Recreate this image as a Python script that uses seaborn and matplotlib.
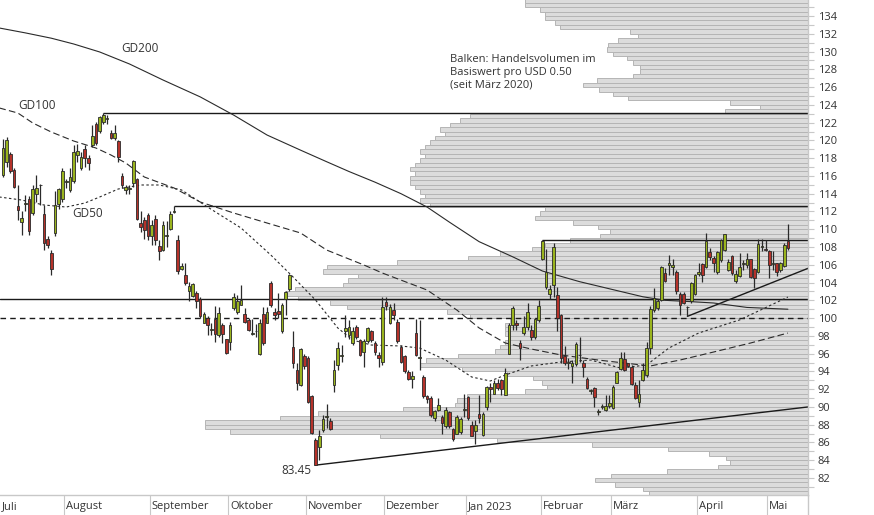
import numpy as np
import pandas as pd
import matplotlib
matplotlib.use("Agg")
import matplotlib.pyplot as plt
from matplotlib.lines import Line2D
import matplotlib.transforms as mtransforms
import seaborn as sns

# ---------------- data ----------------
month_names = ["Juli", "August", "September", "Oktober", "November", "Dezember",
               "Jan 2023", "Februar", "März", "April", "Mai"]
days_per_month = [17, 23, 21, 21, 21, 22, 20, 19, 23, 19, 6]

open_ = [116.1,117.6,118.5,116.7,112.6,110.8,112.8,113.4,111.8,114.0,114.95,111.7,108.9,107.3,109.6,112.8,113.4,115.35,114.4,115.4,
         118.3,116.9,119.0,118.0,119.5,121.9,121.1,122.1,122.45,120.8,120.3,119.9,116.0,114.4,114.55,115.2,115.6,110.7,111.0,111.6,
         109.2,111.2,108.1,107.7,109.2,110.0,111.9,108.8,105.5,104.9,103.0,102.5,102.8,102.1,99.5,100.0,98.65,99.9,98.1,99.2,
         97.6,97.3,101.1,100.7,101.5,100.5,99.8,98.2,98.5,96.0,100.5,99.5,103.9,100.7,100.8,98.5,102.2,103.3,96.7,94.2,
         92.5,95.7,95.5,91.2,86.3,85.5,87.4,88.9,88.4,92.5,94.7,95.75,98.6,98.1,97.2,99.0,97.5,96.2,97.4,98.5,
         97.2,95.9,95.1,101.8,99.5,100.9,99.6,96.8,95.7,93.9,93.1,98.3,95.5,93.4,91.2,91.0,88.7,89.7,88.9,87.8,
         89.4,87.5,87.0,87.2,89.65,91.1,88.0,87.3,89.2,86.8,90.0,92.3,91.5,92.7,93.0,91.4,96.0,99.2,99.5,97.2,
         98.3,99.0,98.7,97.9,99.8,106.7,103.5,102.7,103.7,102.6,100.3,95.7,94.95,94.6,94.8,95.9,95.0,93.2,91.8,92.1,
         89.45,90.05,89.7,90.1,89.9,92.7,94.3,95.4,94.9,94.5,92.5,90.6,93.0,93.6,96.6,100.9,101.1,102.0,105.1,106.0,
         105.7,105.2,102.7,102.7,101.2,101.9,102.7,105.0,106.1,105.8,107.4,106.8,105.2,106.5,107.7,105.4,107.0,104.2,104.7,106.05,
         106.0,106.6,105.5,105.2,108.0,107.75,107.5,106.05,106.2,105.4,105.9,108.7]
high = [120.2,120.4,118.7,116.9,115.0,112.0,113.8,113.7,115.0,116.1,115.1,112.7,109.2,107.7,114.3,114.6,116.9,115.7,116.9,119.5,
        119.6,118.7,119.5,118.4,121.7,122.1,122.7,123.1,122.9,121.2,121.7,120.0,116.3,115.0,115.0,117.8,115.8,112.0,111.4,111.8,
        111.0,111.6,108.8,110.9,110.9,112.0,112.6,109.4,106.2,106.2,104.1,103.9,103.0,102.4,100.7,100.2,99.4,101.4,101.3,99.4,
        97.7,99.6,102.8,102.6,103.7,101.1,100.0,99.9,99.3,99.9,101.3,101.3,104.2,101.1,102.8,101.7,103.0,105.0,98.5,94.9,
        96.6,96.0,95.7,91.3,86.5,87.4,89.1,90.3,88.7,95.3,97.3,97.0,100.4,99.8,99.0,99.2,97.7,97.7,99.0,98.7,
        97.4,96.2,102.4,102.4,101.6,101.7,99.9,97.0,95.8,94.2,94.0,99.9,99.8,93.6,91.4,91.2,89.7,91.0,89.1,90.0,
        89.6,87.6,89.1,88.9,91.5,91.2,88.4,88.5,91.4,89.4,92.4,92.7,93.0,93.1,93.2,94.4,99.4,101.4,99.8,97.5,
        100.2,101.7,99.2,100.0,102.0,108.8,107.8,103.7,108.4,103.5,100.5,96.9,95.5,95.3,97.3,97.9,95.3,93.4,92.0,92.3,
        89.8,90.3,91.3,91.4,92.5,94.0,96.2,96.2,95.0,94.7,92.8,93.0,94.9,97.3,101.4,103.4,102.2,105.9,105.6,107.1,
        106.7,105.4,102.9,102.9,101.4,104.1,105.0,106.2,106.2,109.6,107.9,107.0,107.5,108.9,109.5,106.6,107.1,105.4,107.3,106.5,
        107.3,106.7,105.6,108.9,108.9,108.8,107.7,107.5,106.2,106.3,108.4,110.6]
low = [115.9,117.0,116.3,114.6,111.0,109.4,112.0,109.4,111.6,113.1,112.7,107.7,107.9,104.8,109.2,112.3,113.1,114.6,114.2,115.2,
       117.6,116.7,117.0,116.7,119.3,119.5,120.8,121.9,121.9,120.2,120.0,117.6,114.6,114.0,114.0,114.8,111.0,109.7,108.9,108.8,
       108.2,108.2,106.5,107.5,108.0,109.9,111.8,105.0,105.4,103.7,101.9,102.4,101.1,100.0,99.4,98.1,98.1,97.3,97.9,97.2,
       96.0,96.4,100.9,100.5,101.5,99.4,98.5,98.1,97.9,95.8,97.0,99.4,101.3,99.8,100.0,98.3,100.4,103.0,94.4,91.9,
       92.4,94.3,90.4,87.0,83.45,84.0,87.2,87.6,87.4,91.7,94.2,95.1,97.9,97.7,97.0,97.7,95.7,94.5,97.2,97.3,
       95.9,94.5,94.7,100.9,99.3,99.8,97.2,94.9,93.8,93.0,92.1,95.7,94.2,91.0,90.4,88.9,88.4,89.5,87.0,87.6,
       87.6,86.2,86.9,87.0,88.9,88.5,86.7,85.8,88.2,86.7,89.7,90.6,91.5,91.9,91.3,91.4,96.0,98.7,98.7,95.3,
       98.1,98.7,97.5,97.7,99.6,106.5,103.3,102.2,102.4,98.5,94.9,94.7,94.3,92.7,94.6,95.1,93.4,92.0,91.5,90.0,
       89.1,89.8,89.5,89.9,89.8,92.7,94.2,94.0,94.5,92.5,90.9,90.0,92.9,93.4,96.0,100.7,100.9,101.9,104.1,104.9,
       104.9,102.7,100.3,101.6,100.2,101.7,102.6,104.7,104.1,105.6,106.5,105.2,105.0,106.3,107.6,105.3,104.8,103.9,104.6,105.4,
       105.6,104.5,103.4,105.1,107.5,107.5,104.5,105.4,104.7,105.2,105.8,107.7]
close = [119.1,120.0,116.5,114.8,112.2,111.3,112.9,109.8,114.5,114.6,115.0,108.4,108.2,105.5,112.7,114.5,116.6,115.45,115.9,118.7,
         118.8,118.1,118.0,117.5,120.5,119.7,122.6,122.9,122.55,120.3,120.8,118.1,115.0,114.7,114.65,117.7,111.2,110.3,109.9,109.2,
         110.5,108.8,107.6,110.5,109.3,111.7,112.0,105.3,105.9,103.9,103.6,103.8,101.9,100.2,100.5,99.2,98.75,98.2,100.6,98.2,
         96.1,99.2,102.4,101.9,102.0,99.6,98.7,98.3,98.6,99.5,97.2,100.7,101.5,100.4,100.5,101.5,102.9,104.9,94.9,92.7,
         96.5,94.6,90.6,87.1,83.5,86.7,88.6,89.0,87.5,94.2,96.6,95.85,98.9,99.0,98.5,97.9,95.9,97.4,98.9,97.5,
         96.2,95.5,101.3,101.4,101.3,100.3,97.4,95.1,94.0,93.1,93.5,95.9,95.6,91.2,90.9,89.1,89.5,90.2,88.2,89.7,
         87.9,86.4,88.9,88.6,89.75,88.7,86.7,88.0,88.8,89.2,92.2,92.0,92.7,92.1,92.0,93.8,99.2,101.1,99.2,96.6,
         99.0,100.7,97.9,99.9,101.4,108.7,105.2,103.3,108.0,100.0,95.5,94.9,95.05,95.0,97.1,95.8,94.5,92.1,91.9,91.1,
         89.55,90.15,90.1,90.4,92.3,93.9,95.5,94.2,94.6,92.6,91.0,91.5,94.2,96.6,101.0,102.3,101.9,105.7,104.2,106.2,
         106.0,103.1,101.5,101.7,101.3,104.0,104.9,105.2,104.9,108.7,106.9,106.2,107.4,108.8,109.5,106.3,105.1,105.0,105.8,106.15,
         106.7,104.6,104.5,108.3,108.1,107.65,106.0,106.15,105.2,106.2,108.2,107.9]

# moving averages (trading-day index, price)
gd200_x = [-1, 6, 13, 19, 26, 34, 43, 53, 62, 71, 80, 87, 93, 100, 107, 114, 120, 128, 137, 145, 155, 164, 172,
           178, 185, 191, 200, 211]
gd200_y = [132.65, 132.1, 131.5, 130.85, 129.95, 128.6, 126.8, 124.9, 122.85, 120.6, 118.9, 117.6, 116.5, 115.3,
           114.0, 112.5, 110.8, 108.6, 106.9, 105.3, 104.1, 103.2, 102.4, 102.0, 101.85, 101.7, 101.2, 101.0]
gd100_x = [-1, 4, 8, 13, 19, 25, 29, 33, 38, 46, 53, 62, 71, 80, 87, 97, 102, 114, 122, 128, 135, 142, 150,
           160, 174, 182, 191, 201, 211]
gd100_y = [123.65, 123.08, 121.96, 120.94, 119.93, 119.14, 118.36, 117.46, 115.88, 114.64, 113.07, 111.83, 110.70,
           109.58, 107.66, 105.98, 105.07, 103.16, 100.91, 98.89, 97.20, 96.52, 95.85, 95.28, 94.61, 95.28, 96.18,
           97.20, 98.32]
gd50_x = [-1, 5, 11, 17, 22, 26, 31, 37, 42, 48, 55, 64, 72, 78, 84, 90, 94, 99, 107, 112, 119, 126, 131, 135,
          142, 150, 158, 166, 173, 179, 187, 198, 211]
gd50_y = [113.63, 113.29, 112.73, 112.50, 112.95, 113.63, 114.53, 114.98, 114.98, 114.42, 112.50, 110.14, 107.10,
          104.62, 102.04, 98.89, 97.53, 96.97, 96.86, 96.63, 95.28, 93.37, 92.92, 93.59, 94.61, 95.06, 95.28, 94.38,
          94.72, 96.63, 98.32, 99.79, 102.37]

# volume profile: bins of USD 0.50 starting at 80.0, relative bar length
vol_bin_start = 80.0
vol_bin_size = 0.5
vol_length = [159, 165, 193, 213, 197, 141, 90, 78, 82, 99, 140, 216, 311, 428, 578, 603, 603, 528, 490, 405,
              353, 351, 341, 283, 261, 266, 275, 301, 346, 388, 382, 350, 313, 308, 303, 298, 303, 303, 303, 298,
              338, 361, 461, 478, 510, 523, 513, 465, 460, 450, 485, 481, 411, 340, 308, 276, 263, 238, 208, 198,
              210, 235, 273, 268, 263, 378, 388, 383, 388, 393, 398, 398, 393, 398, 393, 388, 383, 388, 383, 378,
              373, 363, 368, 358, 348, 338, 83, 48, 78, 180, 195, 209, 225, 211, 175, 168, 168, 175, 181, 195,
              201, 200, 190, 170, 178, 248, 253, 263, 263, 268, 283, 283]
vol_axis_span = 808

# resistance / support lines: (start candle index, level)
resist_start = [27, 46, 145]
resist_level = [123.1, 112.6, 108.8]
full_line_solid = 102.2
full_line_dashed = 100.0
trend1_x = [84, 216.4]
trend1_y = [83.45, 90.0]
trend2_x = [184, 216.4]
trend2_y = [100.2, 105.6]

# ---------------- style ----------------
sns.set_style("white")
plt.rcParams["font.family"] = ["Open Sans", "DejaVu Sans"]
TXT = "#333333"
GRID = "#c8c8c8"
LINE = "#1a1a1a"

fig = plt.figure(figsize=(8.74, 5.15), dpi=100)
fig.patch.set_facecolor("white")
ax = fig.add_axes([0, 20 / 515, 808 / 874, 495 / 515])
ax_vol = ax.twiny()

xmin, xmax = -0.8, 216.4
ymin, ymax = 80.09, 135.8

# volume profile bars
vol_y = vol_bin_start + vol_bin_size * np.arange(len(vol_length)) + vol_bin_size / 2
vol_df = pd.DataFrame({"price": vol_y, "length": vol_length})
ax_vol.barh(vol_df["price"], vol_df["length"], height=vol_bin_size, left=0,
            color="#dcdcdc", edgecolor="#b5b5b5", linewidth=0.7)
ax_vol.set_xlim(vol_axis_span, 0)
ax_vol.set_ylim(ymin, ymax)
for s in ax_vol.spines.values():
    s.set_visible(False)
ax_vol.set_xticks([])
ax_vol.tick_params(axis="both", length=0)
ax_vol.patch.set_facecolor("white")

ax.set_zorder(ax_vol.get_zorder() + 1)
ax.patch.set_visible(False)

# full horizontal lines
ax.axhline(full_line_solid, color=LINE, lw=1.0, zorder=2)
ax.axhline(full_line_dashed, color=LINE, lw=1.0, ls=(0, (4, 3)), zorder=2)
for xs, lv in zip(resist_start, resist_level):
    ax.hlines(lv, xs, xmax, color=LINE, lw=1.0, zorder=2)
ax.plot(trend1_x, trend1_y, color=LINE, lw=1.0, zorder=2)
ax.plot(trend2_x, trend2_y, color=LINE, lw=1.0, zorder=2)

# moving averages
ma_df = pd.DataFrame({"x": gd200_x, "y": gd200_y})
sns.lineplot(data=ma_df, x="x", y="y", ax=ax, color="#2a2a2a", linewidth=0.8)
ax.lines[-1].set_linestyle("-")
ma_df = pd.DataFrame({"x": gd100_x, "y": gd100_y})
sns.lineplot(data=ma_df, x="x", y="y", ax=ax, color="#2a2a2a", linewidth=0.8)
ax.lines[-1].set_linestyle((0, (6, 3)))
ma_df = pd.DataFrame({"x": gd50_x, "y": gd50_y})
sns.lineplot(data=ma_df, x="x", y="y", ax=ax, color="#2a2a2a", linewidth=0.8)
ax.lines[-1].set_linestyle((0, (2.2, 2.2)))

# candles
idx = np.arange(len(close))
o = np.array(open_); c = np.array(close); h = np.array(high); l = np.array(low)
up = c >= o
ax.vlines(idx, l, h, color="#2a2a2a", lw=0.9, zorder=3)
body_bottom = np.minimum(o, c)
body_h = np.maximum(np.abs(c - o), 0.08)
ax.bar(idx[up], body_h[up], bottom=body_bottom[up], width=0.72, color="#9ab41e",
       edgecolor="#2a2a2a", linewidth=0.6, zorder=4)
ax.bar(idx[~up], body_h[~up], bottom=body_bottom[~up], width=0.72, color="#b5322a",
       edgecolor="#2a2a2a", linewidth=0.6, zorder=4)

ax.set_xlim(xmin, xmax)
ax.set_ylim(ymin, ymax)
ax.set_xlabel("")
ax.set_ylabel("")

# axes / ticks
for name in ["top", "left"]:
    ax.spines[name].set_visible(False)
ax.spines["right"].set_color(GRID)
ax.spines["bottom"].set_color(GRID)
ax.spines["right"].set_linewidth(1.0)
ax.spines["bottom"].set_linewidth(1.0)

ax.yaxis.tick_right()
ax.set_yticks(np.arange(82, 135, 2))
ax.set_yticks(np.arange(81, 136, 1), minor=True)
ax.tick_params(axis="y", which="both", direction="out", length=4, width=0.8, color=GRID,
               labelsize=8, labelcolor=TXT, pad=3, left=False, right=True)

month_start = np.concatenate([[0], np.cumsum(days_per_month)[:-1]])
ticks = month_start[1:] - 0.5
ax.set_xticks(ticks)
ax.set_xticklabels([])
ax.tick_params(axis="x", direction="out", length=14.4, width=0.8, color=GRID)
trans = mtransforms.blended_transform_factory(ax.transData, ax.transAxes)
label_pos = [xmin + 0.4] + list(ticks + 0.5)
for name, pos in zip(month_names, label_pos):
    ax.text(pos, -0.024, name, transform=trans, ha="left", va="center", fontsize=8, color=TXT,
            clip_on=False)
fig.add_artist(Line2D([808 / 874, 808 / 874], [0, 20 / 515], transform=fig.transFigure, color=GRID, lw=1.0))

# annotations
ax.text(31.7, 130.3, "GD200", fontsize=8.5, color=TXT, va="center", ha="left")
ax.text(4.0, 123.9, "GD100", fontsize=8.5, color=TXT, va="center", ha="left")
ax.text(18.5, 111.8, "GD50", fontsize=8.5, color=TXT, va="center", ha="left")
ax.text(78.8, 82.8, "83.45", fontsize=8.5, color=TXT, va="center", ha="center")
ax.text(120.2, 129.7, "Balken: Handelsvolumen im\nBasiswert pro USD 0.50\n(seit März 2020)",
        fontsize=8, color=TXT, va="top", ha="left", linespacing=1.2)

fig.savefig("out.png", dpi=100, facecolor="white")
